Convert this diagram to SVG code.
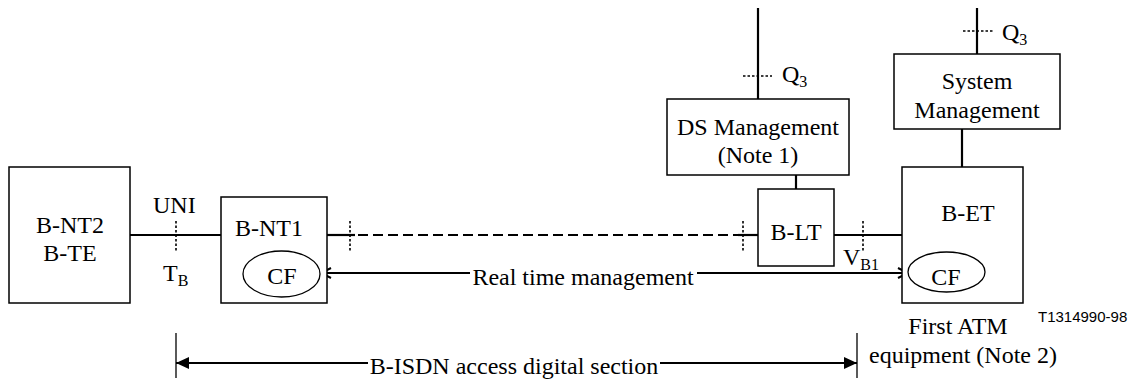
<svg xmlns="http://www.w3.org/2000/svg" width="1137" height="381" viewBox="0 0 1137 381">
<style>
text{font-family:'Liberation Serif','Times New Roman',Times,'DejaVu Serif',serif;font-size:24px;fill:#000}
.m{text-anchor:middle}
.sub{font-size:16px}
.code{font-family:'Liberation Sans',Arial,sans-serif;font-size:15px}
.box{fill:#fff;stroke:#000;stroke-width:1.5}
.ln{stroke:#000;stroke-width:2.2;fill:none}
.dash{stroke:#000;stroke-width:2.2;fill:none;stroke-dasharray:10 5}
.tick{stroke:#000;stroke-width:1.6;fill:none;stroke-dasharray:2.5 2}
.thin{stroke:#000;stroke-width:1.3;fill:none}
</style>
<defs>
<marker id="open" viewBox="0 0 12 12" refX="11" refY="6" markerWidth="12" markerHeight="12" markerUnits="userSpaceOnUse" orient="auto-start-reverse">
<path d="M1,1 L11,6 L1,11" fill="none" stroke="#000" stroke-width="2"/>
</marker>
<marker id="fill" viewBox="0 0 13 12" refX="13" refY="6" markerWidth="13" markerHeight="12" markerUnits="userSpaceOnUse" orient="auto-start-reverse">
<path d="M0,0 L13,6 L0,12 Z" fill="#000"/>
</marker>
</defs>
<g id="connectors">
<line class="ln" x1="130" y1="235" x2="221" y2="235"/>
<line class="ln" x1="327" y1="235" x2="355" y2="235"/>
<line class="dash" x1="358" y1="235" x2="738" y2="235"/>
<line class="ln" x1="738" y1="235" x2="758" y2="235"/>
<line class="ln" x1="834" y1="235" x2="902" y2="235"/>
<line class="tick" x1="176" y1="221" x2="176" y2="251"/>
<line class="tick" x1="350" y1="221" x2="350" y2="251"/>
<line class="tick" x1="743" y1="221" x2="743" y2="251"/>
<line class="tick" x1="863" y1="221" x2="863" y2="251"/>
<line class="ln" x1="758" y1="8" x2="758" y2="99"/>
<line class="tick" x1="743" y1="76" x2="772" y2="76"/>
<line class="ln" x1="977" y1="8" x2="977" y2="54"/>
<line class="tick" x1="963" y1="31" x2="993" y2="31"/>
<line class="ln" x1="796" y1="175" x2="796" y2="189"/>
<line class="ln" x1="962" y1="129" x2="962" y2="167"/>
<line class="ln" x1="470" y1="273" x2="321" y2="273" marker-end="url(#open)"/>
<line class="ln" x1="697" y1="273" x2="908" y2="273" marker-end="url(#open)"/>
<line class="thin" x1="176" y1="333" x2="176" y2="378"/>
<line class="thin" x1="857" y1="333" x2="857" y2="378"/>
<line class="ln" x1="368" y1="363" x2="176" y2="363" marker-end="url(#fill)"/>
<line class="ln" x1="660" y1="363" x2="857" y2="363" marker-end="url(#fill)"/>
</g>
<g id="bnt2">
<rect class="box" x="9" y="167" width="121" height="136"/>
<text class="m" x="70" y="233">B-NT2</text>
<text class="m" x="70" y="261">B-TE</text>
</g>
<g id="bnt1">
<rect class="box" x="221" y="197" width="106" height="106"/>
<text class="m" x="269" y="236">B-NT1</text>
<ellipse class="thin" cx="281.5" cy="274" rx="38.5" ry="23"/>
<text class="m" x="282" y="284">CF</text>
</g>
<g id="dsm">
<rect class="box" x="667" y="99" width="182" height="76"/>
<text class="m" x="758" y="135">DS Management</text>
<text class="m" x="758" y="163">(Note 1)</text>
</g>
<g id="blt">
<rect class="box" x="758" y="189" width="76" height="77"/>
<text class="m" x="796" y="240">B-LT</text>
</g>
<g id="sysm">
<rect class="box" x="894" y="54" width="166" height="75"/>
<text class="m" x="977" y="89">System</text>
<text class="m" x="977" y="118">Management</text>
</g>
<g id="bet">
<rect class="box" x="902" y="167" width="121" height="136"/>
<text class="m" x="968" y="221">B-ET</text>
<ellipse class="thin" cx="946.5" cy="272" rx="38.5" ry="20"/>
<text class="m" x="946" y="285">CF</text>
</g>
<g id="labels">
<text x="153" y="213">UNI</text>
<text x="163" y="281">T<tspan class="sub" dy="5">B</tspan></text>
<text x="782" y="82">Q<tspan class="sub" dy="5">3</tspan></text>
<text x="1002" y="40">Q<tspan class="sub" dy="5">3</tspan></text>
<text x="843" y="265">V<tspan class="sub" dy="5">B1</tspan></text>
<text class="m" x="583" y="285">Real time management</text>
<text class="m" x="514" y="374">B-ISDN access digital section</text>
<text class="m" x="958" y="334">First ATM</text>
<text class="m" x="963" y="363">equipment (Note 2)</text>
<text class="code" x="1038" y="322">T1314990-98</text>
</g>
</svg>
